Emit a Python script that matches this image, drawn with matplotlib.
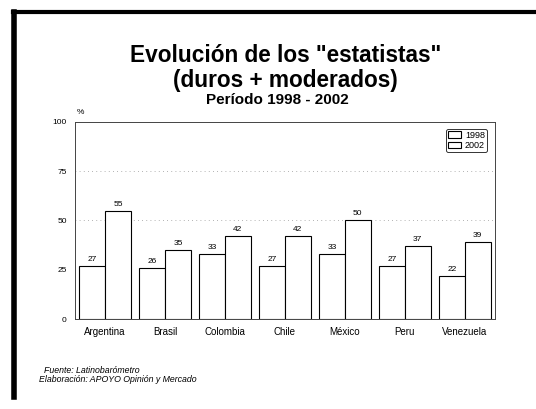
import numpy as np
import matplotlib
matplotlib.use("Agg")
import matplotlib.pyplot as plt
from matplotlib.lines import Line2D

plt.rcParams['font.family'] = ['Liberation Sans', 'DejaVu Sans']

countries = ["Argentina", "Brasil", "Colombia", "Chile", "México", "Peru", "Venezuela"]
vals_1998 = [27, 26, 33, 27, 33, 27, 22]
vals_2002 = [55, 35, 42, 42, 50, 37, 39]
yticks = [0, 25, 50, 75, 100]

fig = plt.figure(figsize=(5.36, 4.09), dpi=100)
ax = fig.add_axes([0.140, 0.220, 0.783, 0.482])

x = np.arange(len(countries)) + 0.5
w = 0.433
b1 = ax.bar(x - w / 2, vals_1998, w, color="white", edgecolor="black", linewidth=0.8, label="1998")
b2 = ax.bar(x + w / 2, vals_2002, w, color="white", edgecolor="black", linewidth=0.8, label="2002")

for bars, vals in ((b1, vals_1998), (b2, vals_2002)):
    for r, v in zip(bars, vals):
        ax.text(r.get_x() + r.get_width() / 2, v + 1.5, str(v), ha="center", va="bottom", fontsize=6)

# dotted gridlines
for g in (50, 75):
    ax.axhline(g, color="#999999", linestyle=(0, (1, 4)), linewidth=0.6, zorder=0)

ax.set_xlim(0, 7)
ax.set_ylim(0, 100)
ax.set_yticks(yticks)
ax.set_xticks(x)
ax.set_xticklabels(countries, fontsize=7)
ax.tick_params(axis="y", labelsize=6, length=0, pad=6)
ax.tick_params(axis="x", length=0, pad=6)
for s in ax.spines.values():
    s.set_linewidth(0.7)
    s.set_color("#444444")

ax.text(0.005, 1.03, "%", transform=ax.transAxes, fontsize=6, ha="left", va="bottom")

leg = ax.legend(loc="upper right", fontsize=6.5, frameon=True, fancybox=True,
                edgecolor="black", handlelength=1.5, handleheight=0.7, handletextpad=0.4,
                borderpad=0.2, labelspacing=0.2, borderaxespad=0, bbox_to_anchor=(0.981, 0.965))
leg.get_frame().set_linewidth(0.7)

fig.text(0.532, 0.848, 'Evolución de los "estatistas"', ha="center", va="baseline",
         fontsize=16.3, fontweight="bold")
fig.text(0.532, 0.804, "(duros + moderados)", ha="center", va="center",
         fontsize=16.3, fontweight="bold")
fig.text(0.518, 0.755, "Período 1998 - 2002", ha="center", va="center",
         fontsize=11, fontweight="bold")

fig.text(0.083, 0.094, "Fuente: Latinobarómetro", ha="left", va="center",
         fontsize=6.3, style="italic")
fig.text(0.073, 0.071, "Elaboración: APOYO Opinión y Mercado", ha="left", va="center",
         fontsize=6.3, style="italic")

# page border (scanned frame)
fig.add_artist(Line2D([0.025, 1.0], [0.97, 0.97], color="black", linewidth=3, transform=fig.transFigure))
fig.add_artist(Line2D([0.027, 0.027], [0.97, 0.03], color="black", linewidth=4, transform=fig.transFigure))

fig.savefig("out.png", dpi=100)
